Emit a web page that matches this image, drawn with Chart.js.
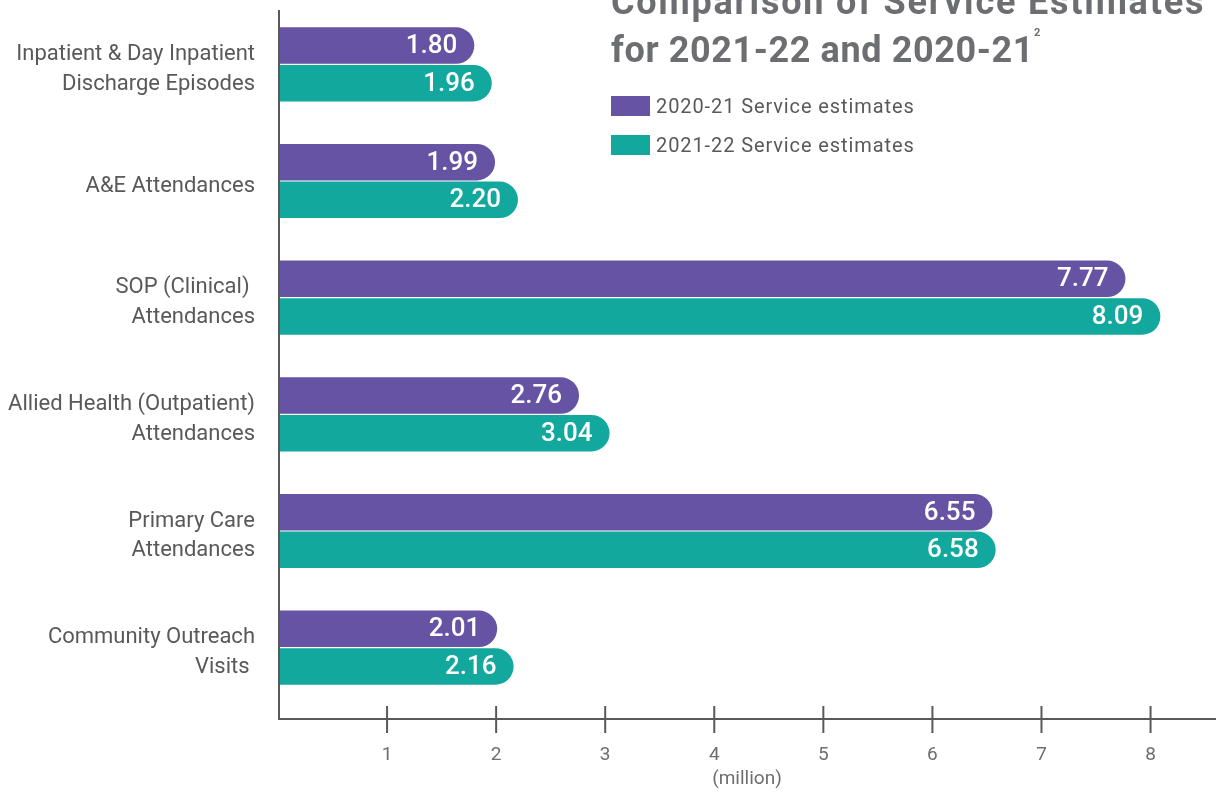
<!DOCTYPE html>
<html>
<head>
<meta charset="utf-8">
<script src="https://cdn.jsdelivr.net/npm/chart.js@4.4.1/dist/chart.umd.min.js"></script>
<style>
  html, body { margin: 0; padding: 0; background: #fff; }
  #wrap { position: relative; width: 1216px; height: 798px; overflow: hidden; }
  #grafico { position: absolute; left: 0; top: 0; }
  #titulo {
    position: absolute; left: 611px; top: -22px; white-space: nowrap;
    font-family: Roboto, sans-serif; font-weight: 700; font-size: 36px;
    line-height: 48px; color: #6d6e71; letter-spacing: 0.6px;
  }
  #titulo .l1 { letter-spacing: 1.8px; }
  #titulo sup { font-size: 11px; line-height: 0; vertical-align: baseline; position: relative; top: -26px; margin-left: 0; }
  #leyenda { position: absolute; left: 611px; top: 96px; font-family: Roboto, sans-serif; }
  .item { display: flex; align-items: center; height: 20px; margin-bottom: 19px; }
  .caja { width: 39px; height: 20px; margin-right: 6px; }
  .texto { font-size: 20px; color: #58595b; letter-spacing: 0.9px; }
</style>
</head>
<body>
<div id="wrap">
  <canvas id="grafico" width="1216" height="798"></canvas>
  <div id="titulo"><span class="l1">Comparison of Service Estimates</span><br>for 2021-22 and 2020-21<sup>2</sup></div>
  <div id="leyenda"></div>
</div>
<script>
const categorias = [
    ['Inpatient & Day Inpatient', 'Discharge Episodes'],
    'A&E Attendances',
    ['SOP (Clinical) ', 'Attendances'],
    ['Allied Health (Outpatient)', 'Attendances'],
    ['Primary Care', 'Attendances'],
    ['Community Outreach', 'Visits ']
];
const series2021 = [1.80, 1.99, 7.77, 2.76, 6.55, 2.01];
const series2022 = [1.96, 2.20, 8.09, 3.04, 6.58, 2.16];
const nombres = ['2020-21 Service estimates', '2021-22 Service estimates'];
const colores = ['#6753a3', '#12a89d'];
const ticksX = [1, 2, 3, 4, 5, 6, 7, 8];

const GRIS = '#58595b';

// leyenda en HTML
const leyenda = document.getElementById('leyenda');
nombres.forEach((n, i) => {
    const item = document.createElement('div');
    item.className = 'item';
    item.innerHTML = `<div class="caja" style="background:${colores[i]}"></div><span class="texto">${n}</span>`;
    leyenda.appendChild(item);
});

// ejes dibujados a mano (la linea del eje x va un poco por debajo del area)
const ejes = {
    id: 'ejes',
    afterDraw(chart) {
        const ctx = chart.ctx;
        const x = chart.scales.x;
        const area = chart.chartArea;
        const yEje = area.bottom + 13;
        ctx.save();
        ctx.strokeStyle = GRIS;
        ctx.lineWidth = 2;
        ctx.beginPath();
        ctx.moveTo(area.left + 1, 10);
        ctx.lineTo(area.left + 1, yEje + 1);
        ctx.moveTo(area.left, yEje);
        ctx.lineTo(area.right, yEje);
        ticksX.forEach(v => {
            const px = x.getPixelForValue(v);
            ctx.moveTo(px, yEje - 13);
            ctx.lineTo(px, yEje + 14);
        });
        ctx.stroke();
        ctx.restore();
    }
};

// valores dentro de las barras
const valores = {
    id: 'valores',
    afterDatasetsDraw(chart) {
        const ctx = chart.ctx;
        ctx.save();
        ctx.fillStyle = '#fff';
        ctx.font = '500 26px Roboto, sans-serif';
        ctx.textAlign = 'right';
        ctx.textBaseline = 'middle';
        chart.data.datasets.forEach((ds, i) => {
            chart.getDatasetMeta(i).data.forEach((bar, j) => {
                ctx.fillText(ds.data[j].toFixed(2), bar.x - 17, bar.y + 1);
            });
        });
        ctx.restore();
    }
};

new Chart(document.getElementById('grafico'), {
    type: 'bar',
    data: {
        labels: categorias,
        datasets: [
            { label: nombres[0], data: series2021, backgroundColor: colores[0] },
            { label: nombres[1], data: series2022, backgroundColor: colores[1] }
        ]
    },
    options: {
        indexAxis: 'y',
        responsive: false,
        animation: false,
        layout: { padding: { top: 6, right: 0, left: 0, bottom: 0 } },
        datasets: {
            bar: {
                categoryPercentage: 0.645,
                barPercentage: 0.97,
                borderRadius: 19,
                borderSkipped: 'start'
            }
        },
        plugins: {
            legend: { display: false },
            tooltip: { enabled: false }
        },
        scales: {
            x: {
                min: 0,
                max: 8.6,
                afterFit(scale) {
                    scale.height = 92;
                    scale.paddingLeft = 0;
                    scale.paddingRight = 0;
                },
                afterBuildTicks(scale) {
                    scale.ticks = ticksX.map(v => ({ value: v }));
                },
                grid: { display: false, drawTicks: false },
                border: { display: false },
                ticks: {
                    padding: 38,
                    color: '#6d6e71',
                    font: { family: 'Roboto', size: 19 },
                    autoSkip: false,
                    maxRotation: 0
                },
                title: {
                    display: true,
                    text: '(million)',
                    color: '#6d6e71',
                    font: { family: 'Roboto', size: 19 },
                    padding: { top: 0, bottom: 7 }
                }
            },
            y: {
                afterFit(scale) {
                    scale.width = 278;
                    scale.paddingTop = 0;
                    scale.paddingBottom = 0;
                },
                grid: { display: false, drawTicks: false },
                border: { display: false },
                ticks: {
                    padding: 23,
                    labelOffset: 5,
                    color: GRIS,
                    font: { family: 'Roboto', size: 22, lineHeight: 1.36 },
                    autoSkip: false
                }
            }
        }
    },
    plugins: [ejes, valores]
});
</script>
</body>
</html>
